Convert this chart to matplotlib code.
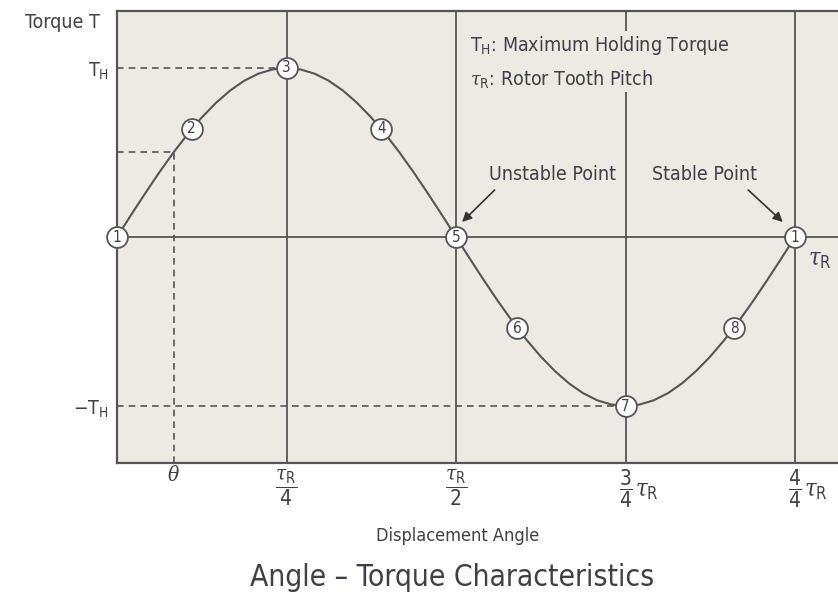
import numpy as np
import matplotlib
matplotlib.use("Agg")
import matplotlib.pyplot as plt

plt.rcParams['font.family'] = ['DejaVu Sans']
plt.rcParams['font.stretch'] = 'condensed'
plt.rcParams['mathtext.fontset'] = 'custom'
plt.rcParams['mathtext.rm'] = 'DejaVu Sans:stretch=condensed'
plt.rcParams['mathtext.it'] = 'DejaVu Serif:italic'

# torque curve, one reading per 1/48 of the tooth pitch
curve_x = np.linspace(0, 1, 49)
curve_t = [0, 0.131, 0.259, 0.383, 0.5, 0.609, 0.707, 0.793, 0.866, 0.924, 0.966, 0.991,
           1.0, 0.991, 0.966, 0.924, 0.866, 0.793, 0.707, 0.609, 0.5, 0.383, 0.259, 0.131,
           0, -0.131, -0.259, -0.383, -0.5, -0.609, -0.707, -0.793, -0.866, -0.924, -0.966, -0.991,
           -1.0, -0.991, -0.966, -0.924, -0.866, -0.793, -0.707, -0.609, -0.5, -0.383, -0.259, -0.131, 0]

# numbered points on the curve
point_labels = ['1', '2', '3', '4', '5', '6', '7', '8', '1']
point_x = [0, 0.11, 0.25, 0.39, 0.5, 0.59, 0.75, 0.91, 1.0]
point_t = [0, 0.64, 1.0, 0.64, 0, -0.54, -1.0, -0.54, 0]

theta = 1 / 12
theta_t = 0.5
t_hold = 1.0

grid_x = [0.25, 0.5, 0.75, 1.0]
tick_x = [0.25, 0.5, 0.75, 1.0]
tick_labels = [r'$\dfrac{\tau_{\rm R}}{4}$', r'$\dfrac{\tau_{\rm R}}{2}$',
               r'$\dfrac{3}{4}$', r'$\dfrac{4}{4}$']
pitch_suffix_x = [0.75, 1.0]

bg = '#edeae3'
lc = '#555555'
tc = '#3f3f48'

fig = plt.figure(figsize=(8.38, 5.94), dpi=100)
ax = fig.add_axes([117 / 838, 131 / 594, 721 / 838, 452 / 594])
ax.set_facecolor(bg)
ax.set_xlim(0, 721 / 678)
ax.set_ylim(-1.337, 1.337)

for s in ['left', 'top', 'bottom']:
    ax.spines[s].set_color(lc)
    ax.spines[s].set_linewidth(1.6)
ax.spines['right'].set_visible(False)

# grid
for gx in grid_x:
    ax.axvline(gx, color=lc, lw=1.3, zorder=1)
ax.axhline(0, color=lc, lw=1.3, zorder=1)

# dashed guides
dash = (0, (4, 3))
ax.plot([0, 0.25], [t_hold, t_hold], color=lc, lw=1.2, ls=dash, zorder=1)
ax.plot([0, 0.75], [-t_hold, -t_hold], color=lc, lw=1.2, ls=dash, zorder=1)
ax.plot([0, theta], [theta_t, theta_t], color=lc, lw=1.2, ls=dash, zorder=1)
ax.plot([theta, theta], [-1.337, theta_t], color=lc, lw=1.2, ls=dash, zorder=1)

ax.plot(curve_x, curve_t, color=lc, lw=1.5, zorder=2)

ax.plot(point_x, point_t, 'o', ms=15, mfc='white', mec=lc, mew=1.3, zorder=3, clip_on=False)
for lab, px, pt in zip(point_labels, point_x, point_t):
    ax.text(px, pt, lab, ha='center', va='center', fontsize=11, color=tc, zorder=4)

ax.set_xticks(tick_x)
ax.set_xticklabels(tick_labels, fontsize=15, color=tc)
ax.set_yticks([t_hold, -t_hold])
ax.set_yticklabels([r'T$_{\rm H}$', r'$-$T$_{\rm H}$'], fontsize=14, color=tc)
ax.tick_params(length=0, pad=6)
ax.tick_params(axis='x', pad=3)

xt = ax.get_xaxis_transform()
ax.text(theta, -0.026, r'$\theta$', fontsize=15, color=tc, ha='center', va='center', transform=xt)
# tau_R written after the 3/4 and 4/4 fractions
for sx in pitch_suffix_x:
    ax.text(sx + 0.014, -0.06, r'$\tau_{\rm R}$', fontsize=17, color=tc, ha='left', va='center',
            transform=xt)

ax.text(0.52, 1.035, 'T$_{\\rm H}$: Maximum Holding Torque\n$\\tau_{\\rm R}$: Rotor Tooth Pitch',
        fontsize=14, color=tc, ha='left', va='center', linespacing=1.6,
        bbox=dict(facecolor=bg, edgecolor='none', pad=2), zorder=2)

ax.text(0.643, 0.37, 'Unstable Point', fontsize=14, color=tc, ha='center', va='center')
ax.text(0.867, 0.367, 'Stable Point', fontsize=14, color=tc, ha='center', va='center')
arrow = dict(arrowstyle='-|>', color='#333333', lw=1.2, shrinkA=0, shrinkB=0, mutation_scale=14)
ax.annotate('', xy=(0.509, 0.089), xytext=(0.557, 0.278), arrowprops=arrow)
ax.annotate('', xy=(0.982, 0.089), xytext=(0.931, 0.278), arrowprops=arrow)

ax.text(1.037, -0.13, r'$\tau_{\rm R}$', fontsize=17, color=tc, ha='center', va='center')

fig.text(62 / 838, 1 - 22 / 594, 'Torque T', fontsize=14, color=tc, ha='center', va='center')
fig.text(458 / 838, 1 - 536 / 594, 'Displacement Angle', fontsize=13, color=tc,
         ha='center', va='center')
fig.text(452 / 838, 1 - 578 / 594, 'Angle \u2013 Torque Characteristics', fontsize=21.5,
         color=tc, ha='center', va='center')

fig.savefig('out.png', dpi=100)
